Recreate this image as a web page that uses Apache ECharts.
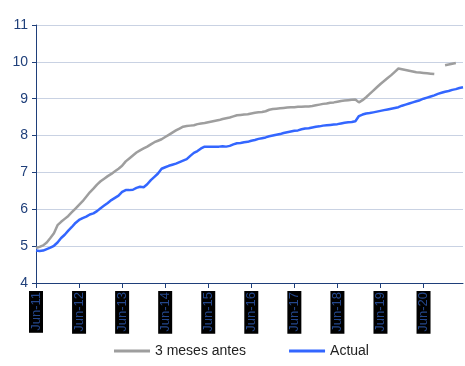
<!DOCTYPE html>
<html>
<head>
<meta charset="utf-8">
<script src="https://cdn.jsdelivr.net/npm/echarts@6/dist/echarts.min.js"></script>
<style>
  html, body { margin: 0; padding: 0; background: #fff; }
  #chart { width: 465px; height: 366px; }
</style>
</head>
<body>
<div id="chart"></div>
<script>
// Monthly categories, Jun-11 through May-21
const monthNames = ['Jun','Jul','Aug','Sep','Oct','Nov','Dec','Jan','Feb','Mar','Apr','May'];
const categories = [];
for (let i = 0; i < 120; i++) {
  const yr = 11 + Math.floor((i + 5) / 12);
  categories.push(monthNames[i % 12] + '-' + String(yr).padStart(2, '0'));
}

const yTicks = [4, 5, 6, 7, 8, 9, 10, 11];

// Expectation recorded three months earlier
const tresMesesAntes = [
  4.95, 4.98, 5.02, 5.10, 5.22, 5.35, 5.57, 5.66, 5.74, 5.82, 5.92, 6.02,
  6.12, 6.22, 6.34, 6.46, 6.56, 6.67, 6.76, 6.83, 6.90, 6.96, 7.03, 7.10,
  7.18, 7.30, 7.38, 7.46, 7.54, 7.60, 7.65, 7.70, 7.76, 7.82, 7.86, 7.90,
  7.96, 8.02, 8.08, 8.14, 8.19, 8.24, 8.26, 8.27, 8.28, 8.31, 8.33, 8.34,
  8.36, 8.38, 8.40, 8.42, 8.45, 8.47, 8.49, 8.52, 8.55, 8.56, 8.57, 8.58,
  8.60, 8.62, 8.63, 8.64, 8.66, 8.70, 8.72, 8.73, 8.74, 8.75, 8.76, 8.77,
  8.77, 8.78, 8.78, 8.79, 8.79, 8.80, 8.82, 8.84, 8.86, 8.87, 8.89, 8.90,
  8.92, 8.94, 8.95, 8.96, 8.97, 8.98, 8.90, 8.96, 9.04, 9.13, 9.22, 9.31,
  9.40, 9.48, 9.56, 9.64, 9.73, 9.82, 9.80, 9.78, 9.76, 9.74, 9.72, 9.71,
  9.70, 9.69, 9.68, 9.67, null, null, 9.91, 9.93, 9.95, 9.97, null, null
];

// Actual values
const actual = [
  4.88, 4.87, 4.88, 4.92, 4.96, 5.01, 5.10, 5.22, 5.31, 5.42, 5.52, 5.63,
  5.71, 5.76, 5.80, 5.86, 5.89, 5.95, 6.03, 6.10, 6.17, 6.25, 6.31, 6.37,
  6.47, 6.52, 6.52, 6.53, 6.58, 6.61, 6.60, 6.68, 6.79, 6.88, 6.97, 7.10,
  7.14, 7.18, 7.21, 7.24, 7.28, 7.32, 7.36, 7.45, 7.53, 7.58, 7.65, 7.70,
  7.70, 7.70, 7.70, 7.70, 7.71, 7.70, 7.72, 7.76, 7.79, 7.80, 7.82, 7.83,
  7.86, 7.88, 7.91, 7.93, 7.95, 7.98, 8.00, 8.02, 8.04, 8.07, 8.09, 8.11,
  8.13, 8.14, 8.17, 8.19, 8.20, 8.22, 8.24, 8.25, 8.27, 8.28, 8.29, 8.30,
  8.31, 8.33, 8.35, 8.36, 8.37, 8.39, 8.53, 8.57, 8.60, 8.61, 8.63, 8.65,
  8.67, 8.69, 8.71, 8.73, 8.75, 8.77, 8.81, 8.84, 8.87, 8.90, 8.93, 8.96,
  9.00, 9.03, 9.06, 9.09, 9.13, 9.16, 9.19, 9.21, 9.24, 9.26, 9.29, 9.31
];

const axisBlue = '#1F3F7A';

const chart = echarts.init(document.getElementById('chart'), null, { renderer: 'canvas' });
chart.setOption({
  animation: false,
  backgroundColor: '#ffffff',
  grid: { left: 36, right: 2, top: 25, bottom: 83, containLabel: false },
  legend: {
    bottom: 3,
    left: 109,
    itemWidth: 36,
    itemHeight: 3,
    itemGap: 43,
    icon: 'rect',
    textStyle: { fontFamily: 'Liberation Sans, Arial', fontSize: 14, color: '#222' },
    data: ['3 meses antes', 'Actual']
  },
  xAxis: {
    type: 'category',
    data: categories,
    boundaryGap: false,
    axisLine: { lineStyle: { color: axisBlue, width: 1 } },
    axisTick: { interval: 11, length: 5, lineStyle: { color: axisBlue } },
    axisLabel: {
      interval: 11,
      rotate: 90,
      margin: 8,
      fontFamily: 'Liberation Sans, Arial',
      fontSize: 13,
      color: '#24478C',
      backgroundColor: '#000000',
      padding: [1, 1, 0, 2]
    },
    splitLine: { show: false }
  },
  yAxis: {
    type: 'value',
    min: yTicks[0],
    max: yTicks[yTicks.length - 1],
    interval: 1,
    axisLine: { show: true, lineStyle: { color: axisBlue, width: 1 } },
    axisTick: { show: true, length: 4, lineStyle: { color: axisBlue } },
    axisLabel: {
      margin: 8,
      fontFamily: 'Liberation Sans, Arial',
      fontSize: 14,
      color: axisBlue
    },
    splitLine: { show: true, lineStyle: { color: '#C9D2E3', width: 1 } }
  },
  series: [
    {
      name: '3 meses antes',
      type: 'line',
      data: tresMesesAntes,
      showSymbol: false,
      connectNulls: false,
      lineStyle: { color: '#9E9E9E', width: 2.5 },
      itemStyle: { color: '#9E9E9E' }
    },
    {
      name: 'Actual',
      type: 'line',
      data: actual,
      showSymbol: false,
      lineStyle: { color: '#3366FF', width: 2.5 },
      itemStyle: { color: '#3366FF' }
    }
  ]
});
</script>
</body>
</html>
